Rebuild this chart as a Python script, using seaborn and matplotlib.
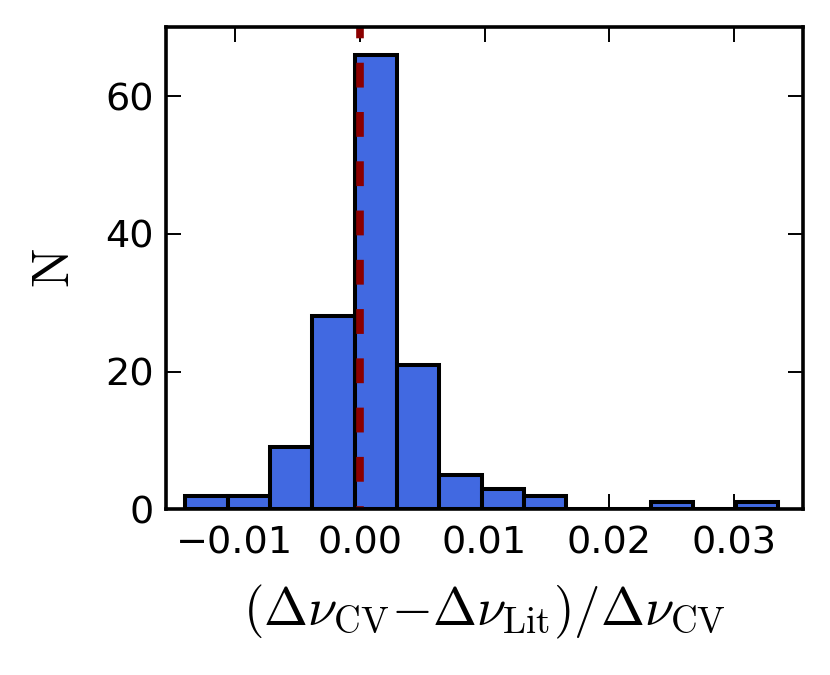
import numpy as np
import matplotlib
matplotlib.use('Agg')
import matplotlib.pyplot as plt
import seaborn as sns

# histogram of relative difference
bin_edges = [-0.01396, -0.01057, -0.00718, -0.00379, -0.00040, 0.00299, 0.00638,
             0.00977, 0.01316, 0.01655, 0.01994, 0.02333, 0.02672, 0.03011, 0.03350]
counts = [2, 2, 9, 28, 66, 21, 5, 3, 2, 0, 0, 1, 0, 1]
xticks = [-0.01, 0.00, 0.01, 0.02, 0.03]
yticks = [0, 20, 40, 60]

centers = [(a + b) / 2 for a, b in zip(bin_edges[:-1], bin_edges[1:])]

sns.set_style("ticks", {'axes.edgecolor': 'black', 'text.color': 'black',
                        'axes.labelcolor': 'black', 'xtick.color': 'black',
                        'ytick.color': 'black'})
plt.rcParams['font.family'] = ['DejaVu Sans']
plt.rcParams['mathtext.fontset'] = 'cm'
plt.rcParams['axes.linewidth'] = 2.6

fig = plt.figure(figsize=(8.3, 6.75), dpi=100)
ax = fig.add_axes([0.2, 0.2455, 0.7675, 0.7141])

sns.histplot(x=centers, weights=counts, bins=bin_edges, color='#4169E1',
             edgecolor='black', linewidth=2.9, alpha=1, ax=ax)
ax.axvline(0, color='#8B0000', linestyle=(2.88, (3.25, 3.2)), linewidth=5.5)

ax.set_xlim(-0.0155, 0.0355)
ax.set_ylim(0, 70)
ax.set_xticks(xticks)
ax.set_xticklabels(['%.2f' % t if t >= 0 else '\u2212%.2f' % -t for t in xticks])
ax.set_yticks(yticks)
ax.tick_params(direction='in', length=11, width=1.4, top=True, right=True,
               labelsize=27.5)
ax.tick_params(axis='x', pad=12)
ax.tick_params(axis='y', pad=9)
ax.set_xlabel(r'$(\Delta\nu_{\rm CV}{-}\Delta\nu_{\rm Lit})/\Delta\nu_{\rm CV}$',
              fontsize=38, labelpad=15)
ax.set_ylabel(r'$\mathrm{N}$', fontsize=38, labelpad=18)

fig.savefig('out.png', dpi=100)
